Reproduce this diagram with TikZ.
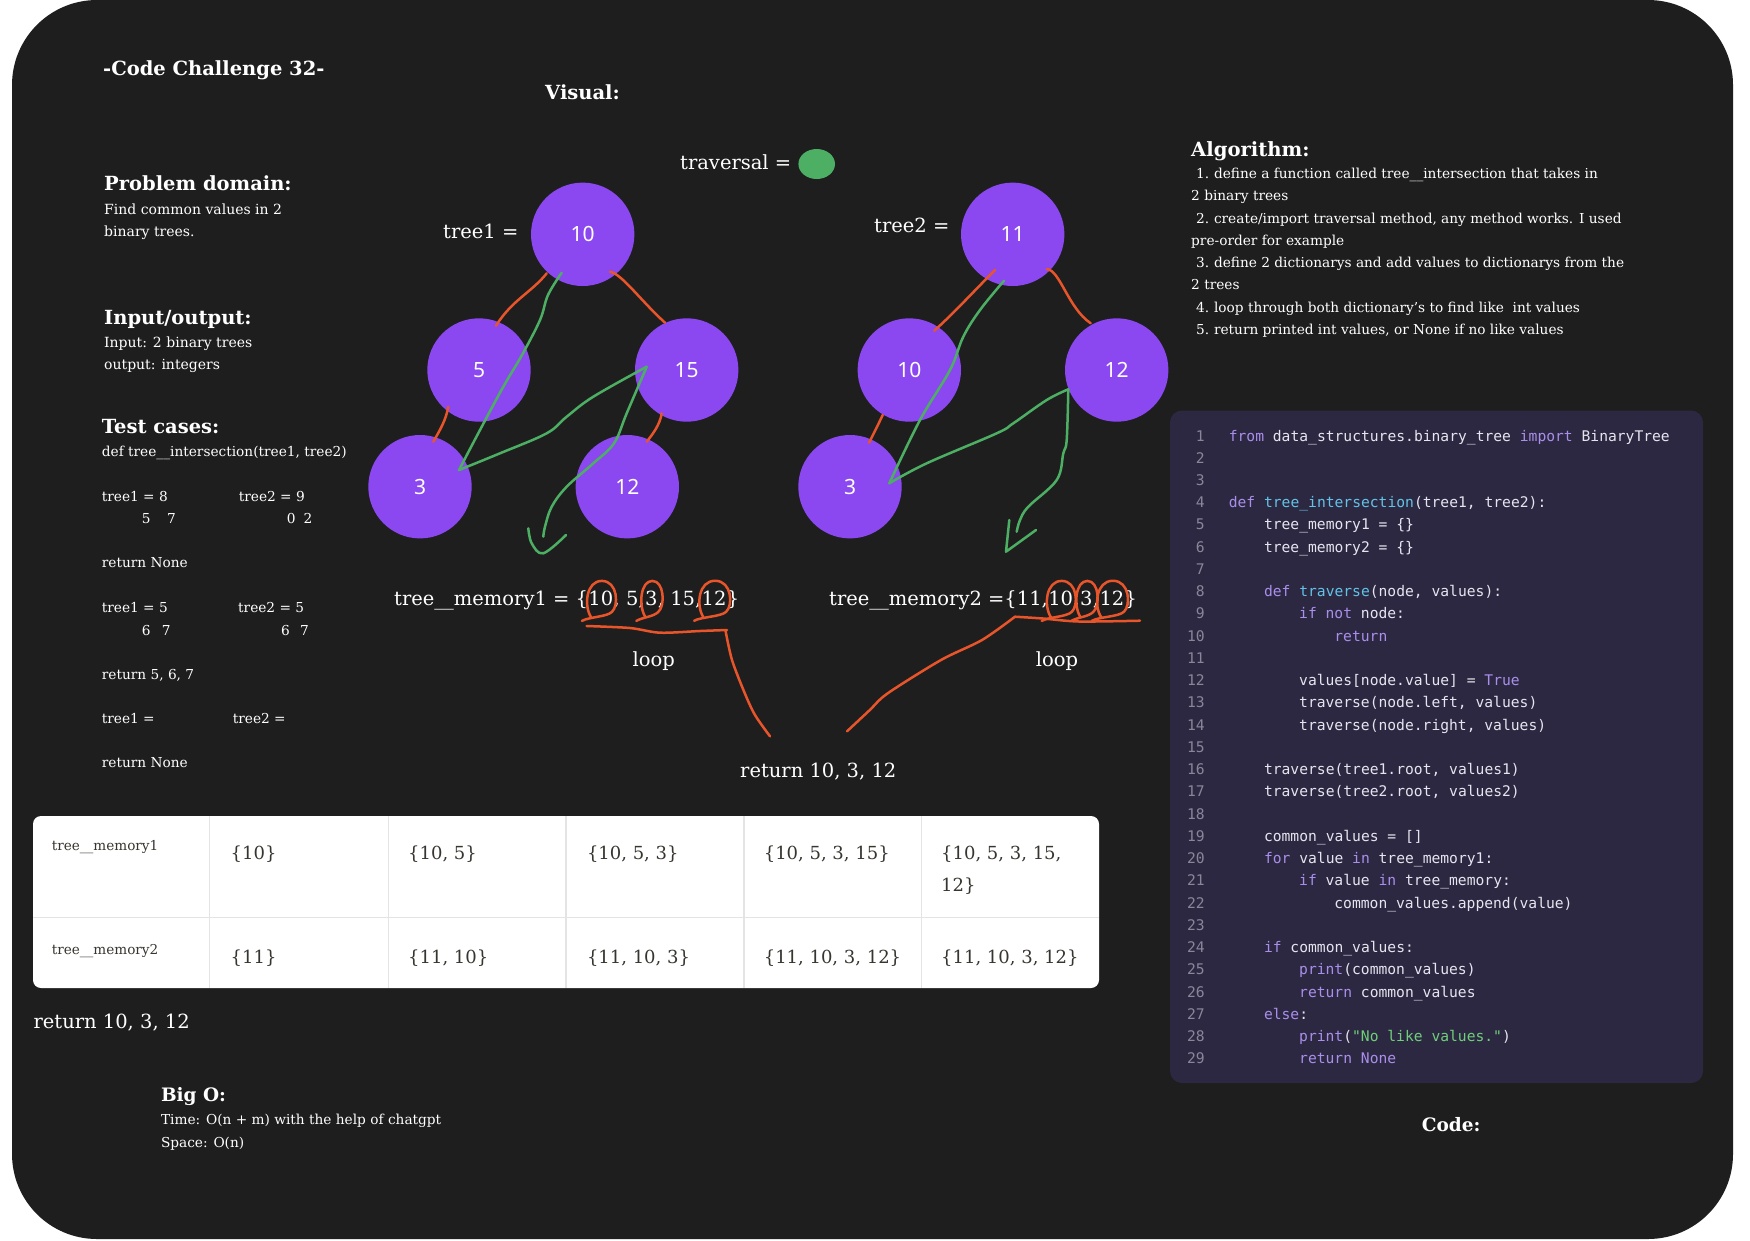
\documentclass[tikz,border=0pt]{standalone}
\usepackage{fontspec}
\setmainfont{DejaVu Serif}
\newfontfamily\codefont{DejaVu Sans Mono}
\newfontfamily\numfont{Noto Sans}
\usetikzlibrary{calc,shapes.geometric}
\definecolor{panelbg}{HTML}{1E1E1E}
\definecolor{nodepurple}{HTML}{8B48F0}
\definecolor{edgeorange}{HTML}{E8552B}
\definecolor{travgreen}{HTML}{4CAF63}
\definecolor{codebg}{HTML}{2D2842}
\definecolor{kwc}{HTML}{A98EEA}
\definecolor{fnc}{HTML}{62C3E6}
\definecolor{strc}{HTML}{6FCF7A}
\definecolor{codetxt}{HTML}{E6E4EE}
\definecolor{lnc}{HTML}{8A869A}
\definecolor{tabtxt}{HTML}{37352F}
\definecolor{tabline}{HTML}{E4E4E4}
\newcommand\fsz[1]{\fontsize{#1}{#1}\selectfont}
\newcommand\ckw[1]{\textcolor{kwc}{#1}}
\newcommand\cfn[1]{\textcolor{fnc}{#1}}
\newcommand\cstr[1]{\textcolor{strc}{#1}}
\newcommand\codeline[3]{\node[lnum] (ln#1) at (1205,{441+(#1-1)*22.24}) {#1};
  \node[codetext] (cl#1) at ({1228.6+#2*35.2},{441+(#1-1)*22.24}) {#3};}
\newcommand\emptyline[1]{\node[lnum] (ln#1) at (1205,{441+(#1-1)*22.24}) {#1};}
\newcommand\handcirc[2]{%
  \draw[edge] ($(#1.center)+(-#2+4,19)$) .. controls ($(#1.center)+(-#2-3,8)$) and ($(#1.center)+(-#2-1,-17)$) .. ($(#1.center)+(1,-17)$)
   .. controls ($(#1.center)+(#2+3,-17)$) and ($(#1.center)+(#2+4,8)$) .. ($(#1.center)+(#2-3,14)$)
   .. controls ($(#1.center)+(#2-8,19)$) and ($(#1.center)+(-#2+2,19)$) .. ($(#1.center)+(-#2-5,23)$);}
\tikzset{
  txt/.style={anchor=base west, inner sep=0pt, text=white},
  head/.style={txt, font=\bfseries\fsz{19.5}},
  body/.style={txt, font=\fsz{14}},
  small/.style={txt, font=\fsz{13.7}},
  big/.style={txt, font=\fsz{19.5}},
  treenode/.style={circle, fill=nodepurple, minimum size=103.4pt, inner sep=0pt, text=white, font=\numfont\fsz{21}},
  edge/.style={draw=edgeorange, line width=2.5pt, line cap=round, line join=round},
  trav/.style={draw=travgreen, line width=2.5pt, line cap=round, line join=round},
  codetext/.style={anchor=base west, inner sep=0pt, text=codetxt, font=\codefont\fsz{14.65}},
  lnum/.style={anchor=base east, inner sep=0pt, text=lnc, font=\codefont\fsz{14.65}},
  tlabel/.style={anchor=base west, inner sep=0pt, text=tabtxt, font=\fsz{13.6}},
  tval/.style={anchor=base west, inner sep=0pt, text=tabtxt, font=\fsz{18}},
}
\begin{document}
\begin{tikzpicture}[x=1pt,y=-1pt]
\useasboundingbox (0,0) rectangle (1750,1240);
\fill[white] (0,0) rectangle (1750,1240);
\fill[panelbg, rounded corners=85pt] (12,0) rectangle (1733,1239);

% ---------- left column ----------
\node[head] (title) at (103,75) {-Code Challenge 32-};
\node[head] (visual) at (545,99.5) {Visual:};
\node[head] (pd) at (104,190) {Problem domain:};
\node[body] (pd1) at (104,214) {Find common values in 2};
\node[body] (pd2) at (104,236) {binary trees.};
\node[head] (io) at (104,324.7) {Input/output:};
\node[body] (io1) at (104,347.8) {Input: 2 binary trees};
\node[body] (io2) at (104,369.8) {output: integers};
\node[head] (tc) at (101.7,433.8) {Test cases:};
\node[small] (tc1) at (101.7,456.5) {def tree\_\_intersection(tree1, tree2)};
\node[small] (tc2) at (101.7,501) {tree1 = 8};
\node[small] (tc3) at (238.7,501) {tree2 = 9};
\node[small] (tc4) at (141.7,523.5) {5};
\node[small] (tc5) at (167,523.5) {7};
\node[small] (tc6) at (286.7,523.5) {0};
\node[small] (tc7) at (303.3,523.5) {2};
\node[small] (tc8) at (101.7,567) {return None};
\node[small] (tc9) at (101.7,612.6) {tree1 = 5};
\node[small] (tc10) at (238,612.6) {tree2 = 5};
\node[small] (tc11) at (141.7,635.5) {6};
\node[small] (tc12) at (161.7,635.5) {7};
\node[small] (tc13) at (281,635.5) {6};
\node[small] (tc14) at (300,635.5) {7};
\node[small] (tc15) at (101.7,679) {return 5, 6, 7};
\node[small] (tc16) at (101.7,723.3) {tree1 =};
\node[small] (tc17) at (232.7,723.3) {tree2 =};
\node[small] (tc18) at (101.7,767.3) {return None};

% ---------- trees ----------
\node[big] (travlbl) at (680,169.5) {traversal =};
\node[fill=travgreen, ellipse, minimum width=36.6pt, minimum height=30pt, inner sep=0pt] (legend) at (816.7,164) {};
\node[big] (t1lbl) at (443,238) {tree1 =};
\node[big] (t2lbl) at (874,232.5) {tree2 =};

\node[treenode] (t1a) at (582.7,234.3) {10};
\node[treenode] (t1b) at (479,370) {5};
\node[treenode] (t1c) at (686.7,370) {15};
\node[treenode] (t1d) at (420,486.7) {3};
\node[treenode] (t1e) at (627.3,486.7) {12};
\node[treenode] (t2a) at (1012.7,234.3) {11};
\node[treenode] (t2b) at (909.3,370) {10};
\node[treenode] (t2c) at (1116.7,370) {12};
\node[treenode] (t2d) at (850,486.7) {3};

\draw[edge] ($(t1a)+(-36,39)$) .. controls (532,292) and (512,300) .. ($(t1b)+(17,-44.3)$);
\draw[edge] ($(t1a)+(27.3,37.4)$) .. controls (622,274) and (640,300) .. ($(t1c)+(-21.7,-47.3)$);
\draw[edge] ($(t1b)+(-30.7,36.7)$) .. controls (446,420) and (440,430) .. ($(t1d)+(13.3,-45)$);
\draw[edge] ($(t1c)+(-25,43.3)$) .. controls (660,425) and (652,435) .. ($(t1e)+(19.4,-45)$);
\draw[edge] ($(t2a)+(-17.7,35.7)$) .. controls (975,290) and (955,312) .. ($(t2b)+(25,-39.3)$);
\draw[edge] ($(t2a)+(34,34.7)$) .. controls (1060,270) and (1068,308) .. ($(t2c)+(-26,-46.7)$);
\draw[edge] ($(t2b)+(-26.6,45)$) .. controls (878,425) and (873,435) .. ($(t2d)+(19,-44)$);

% traversal strokes tree1
\draw[trav] plot[smooth, tension=0.6] coordinates {(561.7,272.7) (548,295) (540,320) (522,355) (503.3,386.7) (480,430) (459,470)};
\draw[trav] plot[smooth, tension=0.6] coordinates {(459,470) (500,453.3) (546.7,433.3) (566.7,416.7) (593.3,396.7) (646.7,366.7)};
\draw[trav] plot[smooth, tension=0.6] coordinates {(646.7,366.7) (626.7,413.3) (614,443.3) (593.3,463.3) (566.7,486.7) (551.7,506.7) (545,526.7) (543.3,536.7)};
\draw[trav] plot[smooth, tension=0.6] coordinates {(528.3,528.3) (531.7,543.3) (543.3,553.3) (566,535)};
% traversal strokes tree2
\draw[trav] plot[smooth, tension=0.6] coordinates {(1004,280.7) (980,310) (963.3,336.7) (950,370) (920,420) (889.3,483.3)};
\draw[trav] plot[smooth, tension=0.6] coordinates {(889.3,483.3) (926.7,463.3) (996.7,433.3) (1013.3,423.3) (1046.7,400) (1068.3,389.3)};
\draw[trav] plot[smooth, tension=0.6] coordinates {(1068.3,389.3) (1066.7,440) (1063.3,453.3) (1056.7,480) (1028.3,506.7) (1020,520) (1016.7,531.7)};
\draw[trav] (1009.3,520) -- (1006,551.7) -- (1036,530);

% ---------- memory texts ----------
\node[big] (m1p) at (394,605) {tree\_\_memory1 = \{};
\node[big, at=(m1p.base east)] (m1n10) {10};
\node[big, at=(m1n10.base east)] (m1c1) {,\ 5,\ };
\node[big, at=(m1c1.base east)] (m1n3) {3};
\node[big, at=(m1n3.base east)] (m1c2) {,\ 15,\ };
\node[big, at=(m1c2.base east)] (m1n12) {12};
\node[big, at=(m1n12.base east)] (m1e) {\}};

\node[big] (m2p) at (829,605) {tree\_\_memory2 =\{11,\ };
\node[big, at=(m2p.base east)] (m2n10) {10};
\node[big, at=(m2n10.base east)] (m2c1) {,\ };
\node[big, at=(m2c1.base east)] (m2n3) {3};
\node[big, at=(m2n3.base east)] (m2c2) {,\ };
\node[big, at=(m2c2.base east)] (m2n12) {12};
\node[big, at=(m2n12.base east)] (m2e) {\}};

\handcirc{m1n10}{14}
\handcirc{m1n3}{10}
\handcirc{m1n12}{15}
\handcirc{m2n10}{14}
\handcirc{m2n3}{10}
\handcirc{m2n12}{15}

\node[big] (loop1) at (632.5,666) {loop};
\node[big] (loop2) at (1035.6,666) {loop};
\node[big] (ret) at (740,777) {return 10, 3, 12};
\coordinate (retL) at ($(ret.north west)+(30,-26)$);
\coordinate (retR) at ($(ret.north west)+(107,-31)$);

\draw[edge] plot[smooth] coordinates {(586.6,626) (630,628) (660,632.7) (700,631) (727,630)};
\draw[edge] plot[smooth] coordinates {(725.4,630) (732,660) (744.8,693.3) (755,715) (retL)};
\draw[edge] plot[smooth] coordinates {(1015,616.7) (1043,618.5) (1079,621.5) (1140,620.7)};
\draw[edge] plot[smooth] coordinates {(1015,616.7) (982,640) (941,660) (887.7,693.3) (869.8,710) (retR)};

% ---------- table ----------
\fill[white, rounded corners=8pt] (33,816) rectangle (1099,988);
\foreach \x in {209.4,388.3,565.8,744,921.4} \draw[tabline, line width=1.5pt] (\x,816) -- (\x,988);
\draw[tabline, line width=1.5pt] (33,917.7) -- (1099,917.7);
\node[tlabel] (tl1) at (51.6,850) {tree\_\_memory1};
\node[tval] (tv11) at (230.5,859.5) {\{10\}};
\node[tval] (tv12) at (408,859.5) {\{10, 5\}};
\node[tval] (tv13) at (586.8,859.5) {\{10, 5, 3\}};
\node[tval] (tv14) at (763.6,859.5) {\{10, 5, 3, 15\}};
\node[tval] (tv15) at (941,859.5) {\{10, 5, 3, 15,};
\node[tval] (tv15b) at (941,891) {12\}};
\node[tlabel] (tl2) at (51.6,954) {tree\_\_memory2};
\node[tval] (tv21) at (230.5,963) {\{11\}};
\node[tval] (tv22) at (408,963) {\{11, 10\}};
\node[tval] (tv23) at (586.8,963) {\{11, 10, 3\}};
\node[tval] (tv24) at (763.6,963) {\{11, 10, 3, 12\}};
\node[tval] (tv25) at (941,963) {\{11, 10, 3, 12\}};

\node[big] (ret2) at (33.4,1028) {return 10, 3, 12};
\node[txt, font=\bfseries\fsz{18.5}] (bigo) at (160.8,1101.5) {Big O:};
\node[small] (bigo1) at (160.8,1124.5) {Time: O(n + m) with the help of chatgpt};
\node[small] (bigo2) at (160.8,1147) {Space: O(n)};

% ---------- algorithm ----------
\node[txt, font=\bfseries\fsz{19.6}] (alg) at (1191,156) {Algorithm:};
\node[small] (a1n) at (1196,178) {1.};
\node[small] (a1) at (1213.8,178) {define a function called tree\_\_intersection that takes in};
\node[small] (a1b) at (1191,200.5) {2 binary trees};
\node[small] (a2n) at (1196,223) {2.};
\node[small] (a2) at (1213.8,223) {create/import traversal method, any method works. I used};
\node[small] (a2b) at (1191,245) {pre-order for example};
\node[small] (a3n) at (1196,267) {3.};
\node[small] (a3) at (1213.8,267) {define 2 dictionarys and add values to dictionarys from the};
\node[small] (a3b) at (1191,289.5) {2 trees};
\node[small] (a4n) at (1196,312) {4.};
\node[small] (a4) at (1213.8,312) {loop through both dictionary's to find like\ \ int values};
\node[small] (a5n) at (1196,334) {5.};
\node[small] (a5) at (1213.8,334) {return printed int values, or None if no like values};

% ---------- code ----------
\fill[codebg, rounded corners=12pt] (1170,410.5) rectangle (1703,1083);
\codeline{1}{0}{\ckw{from} data\_structures.binary\_tree \ckw{import} BinaryTree}
\emptyline{2}
\emptyline{3}
\codeline{4}{0}{\ckw{def} \cfn{tree\_intersection}(tree1, tree2):}
\codeline{5}{1}{tree\_memory1 = \{\}}
\codeline{6}{1}{tree\_memory2 = \{\}}
\emptyline{7}
\codeline{8}{1}{\ckw{def} \cfn{traverse}(node, values):}
\codeline{9}{2}{\ckw{if} \ckw{not} node:}
\codeline{10}{3}{\ckw{return}}
\emptyline{11}
\codeline{12}{2}{values[node.value] = \ckw{True}}
\codeline{13}{2}{traverse(node.left, values)}
\codeline{14}{2}{traverse(node.right, values)}
\emptyline{15}
\codeline{16}{1}{traverse(tree1.root, values1)}
\codeline{17}{1}{traverse(tree2.root, values2)}
\emptyline{18}
\codeline{19}{1}{common\_values = []}
\codeline{20}{1}{\ckw{for} value \ckw{in} tree\_memory1:}
\codeline{21}{2}{\ckw{if} value \ckw{in} tree\_memory:}
\codeline{22}{3}{common\_values.append(value)}
\emptyline{23}
\codeline{24}{1}{\ckw{if} common\_values:}
\codeline{25}{2}{\ckw{print}(common\_values)}
\codeline{26}{2}{\ckw{return} common\_values}
\codeline{27}{1}{\ckw{else}:}
\codeline{28}{2}{\ckw{print}(\cstr{"No like values."})}
\codeline{29}{2}{\ckw{return} \ckw{None}}
\node[txt, font=\bfseries\fsz{18.5}] (codelbl) at (1421.7,1131.5) {Code:};
\end{tikzpicture}
\end{document}
